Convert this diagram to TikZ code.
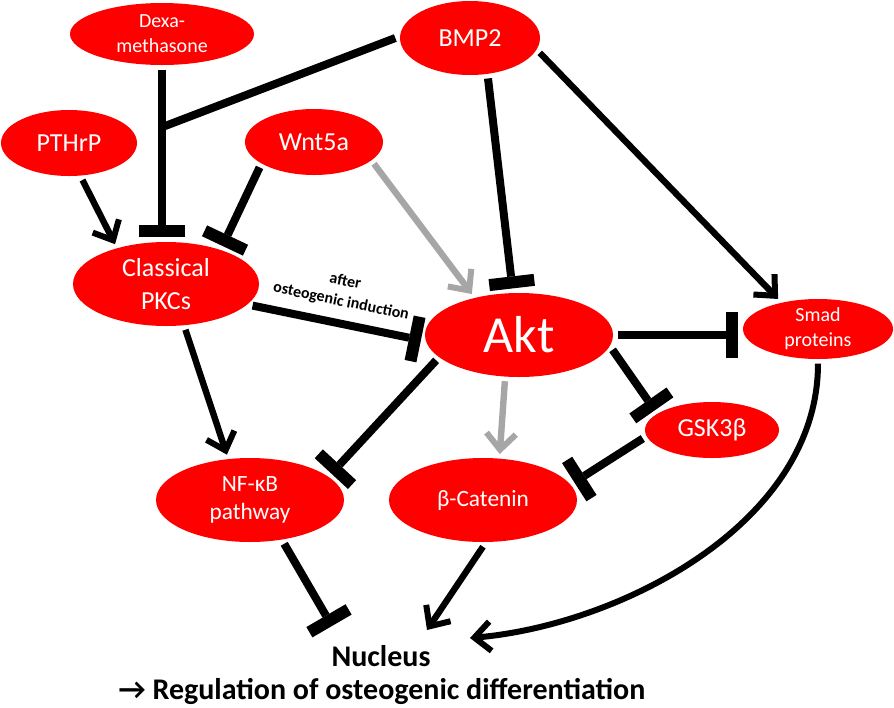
\documentclass[tikz,border=0pt]{standalone}
\usepackage{fontspec}
\setmainfont{Carlito}
\usetikzlibrary{shapes.geometric,arrows.meta,calc}
\definecolor{nred}{RGB}{255,0,0}
\definecolor{lgray}{RGB}{166,166,166}
\tikzset{
  ell/.style={ellipse, fill=nred, draw=none, text=white, inner sep=-5pt, outer sep=3.5pt, align=center},
  fbig/.style={font=\fontsize{19.5}{24.75}\selectfont},
  fsmall/.style={font=\fontsize{15}{18.75}\selectfont},
  fmid/.style={font=\fontsize{17.5}{21}\selectfont},
  inh/.style={line width=6pt, -{Rectangle[length=9pt,width=34pt,line width=0pt]}},
  act/.style={line width=4.8pt, -{Straight Barb[length=12pt,width=22pt,line width=4.5pt]}},
  gact/.style={act, draw=lgray},
  lbl/.style={midway, sloped, above=8pt, font=\bfseries\fontsize{12}{15.5}\selectfont, align=center, inner sep=0pt},
  bottomtext/.style={font=\bfseries\fontsize{22.5}{27}\selectfont, inner sep=0pt},
}
\begin{document}
\begin{tikzpicture}[x=0.75pt,y=-0.75pt]
\useasboundingbox (0,0) rectangle (894,708);

% nodes
\node[ell, fsmall, minimum width=138pt, minimum height=46.5pt] (dexa) at (162,34) {Dexa-\\methasone};
\node[ell, fbig, minimum width=105pt, minimum height=55.5pt] (bmp2) at (470,38) {BMP2};
\node[ell, fbig, minimum width=102pt, minimum height=49.5pt] (pthrp) at (69,143) {PTHrP};
\node[ell, fbig, minimum width=103.5pt, minimum height=49.5pt] (wnt) at (314,142) {Wnt5a};
\node[ell, fbig, minimum width=139.5pt, minimum height=63pt] (pkc) at (166,284) {Classical\\PKCs};
\node[ell, font=\fontsize{39}{47}\selectfont, minimum width=141pt, minimum height=63pt] (akt) at (519,335) {Akt};
\node[ell, fsmall, minimum width=112.5pt, minimum height=45pt] (smad) at (818,329) {Smad\\proteins};
\node[ell, fbig, minimum width=100.5pt, minimum height=42pt] (gsk) at (712,430) {GSK3β};
\node[ell, fmid, minimum width=141pt, minimum height=63pt] (nfkb) at (250,500) {NF-κB\\pathway};
\node[ell, fmid, minimum width=141pt, minimum height=63pt] (bcat) at (483,500) {β-Catenin};
\node[bottomtext] (nucleus) at (381,656) {Nucleus};
\node[bottomtext] (reg) at (382,691) {→ Regulation of osteogenic differentiation};

% connectors
\draw[inh] (dexa.south) -- (dexa.south |- pkc.north);
\coordinate (j) at ($(dexa.south)!0.343!(dexa.south |- pkc.north)$);
\draw[line width=6pt] (bmp2.west) -- (j);
\draw[act] (pthrp.290) -- (pkc.142);
\draw[inh] (wnt.205) -- (pkc.34);
\draw[gact] (wnt.340) -- (akt.139);
\draw[inh] (bmp2.294) -- (akt.98);
\draw[act] (bmp2.348) -- (smad.143);
\draw[inh] (pkc.346) -- node[lbl] (lab) {after\\osteogenic induction} (akt.183);
\draw[act] (pkc.293) -- (nfkb.117);
\draw[inh] (akt.197) -- (nfkb.18);
\draw[gact] (akt.253) -- (bcat.70);
\draw[inh] (akt.351) -- (gsk.161);
\draw[inh] (akt.east) -- (akt.east -| smad.west);
\draw[inh] (gsk.187) -- (bcat.11);
\draw[inh] (nfkb.308) -- ($(nucleus.center)+(-49,-30)$);
\draw[act] (bcat.south) -- ($(nucleus.center)+(46,-26)$);
\draw[act, line width=4.5pt] (smad.south) .. controls +(0,160) and +(150,-13) .. ($(nucleus.center)+(89,-18)$);
\end{tikzpicture}
\end{document}
